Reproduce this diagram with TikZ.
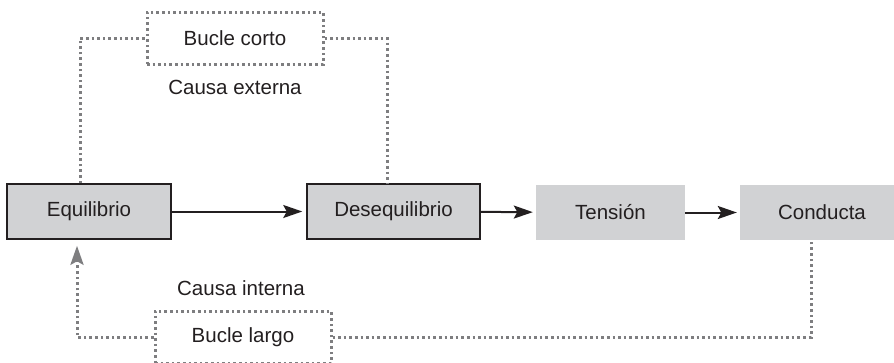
\documentclass[tikz,border=0pt]{standalone}
\usepackage{fontspec}
\setmainfont{Liberation Sans}
\usetikzlibrary{arrows.meta}
\definecolor{boxgray}{HTML}{D1D2D4}
\definecolor{loopgray}{HTML}{7E7E80}
\definecolor{ink}{HTML}{231F20}
\begin{document}
\begin{tikzpicture}[x=1pt,y=-1pt,
  every node/.style={font=\fontsize{20.5}{24}\selectfont, text=ink, inner sep=0pt},
  stage/.style={fill=boxgray, draw=ink, line width=1.5pt, minimum height=55pt},
  plainstage/.style={fill=boxgray, minimum height=55pt},
  loopbox/.style={draw=loopgray, line width=3pt, dash pattern=on 2.6pt off 3pt, minimum width=176pt, minimum height=52pt},
  loopline/.style={draw=loopgray, line width=3pt, dash pattern=on 2.6pt off 3pt},
  flow/.style={draw=ink, line width=2pt, -{Stealth[length=19pt,width=13pt,inset=3.5pt]}},
  label/.style={}]
  \useasboundingbox (0,0) rectangle (894,362);

  % main chain of states
  \node[stage, minimum width=164pt] (eq) at (89,211.5) {Equilibrio};
  \node[stage, minimum width=173pt] (des) at (393.5,211.5) {Desequilibrio};
  \node[plainstage, minimum width=149pt] (ten) at (610.5,212.5) {Tensión};
  \node[plainstage, minimum width=164pt] (con) at (822,212.5) {Conducta};

  \draw[flow, shorten >=4pt] (eq) -- (des);
  \draw[flow, shorten >=3pt] (des) -- (ten);
  \draw[flow, shorten >=3pt] (ten) -- (con);

  % short loop
  \node[loopbox] (bc) at (235,38) {Bucle corto};
  \node[label] (ce) at (235,87) {Causa externa};
  \draw[loopline] ([xshift=-9pt]eq.north) |- (bc.west);
  \draw[loopline] (bc.east) -| ([xshift=-6.5pt]des.north);

  % long loop
  \node[loopbox] (bl) at (243,337) {Bucle largo};
  \node[label] (ci) at (241,288) {Causa interna};
  \draw[loopline, shorten >=6pt, -{Stealth[length=19pt,width=13pt,inset=3.5pt,fill=loopgray]}]
    (bl.west) -| ([xshift=-12pt]eq.south);
  \draw[loopline] (bl.east) -| ([xshift=-11pt]con.south);
\end{tikzpicture}
\end{document}
